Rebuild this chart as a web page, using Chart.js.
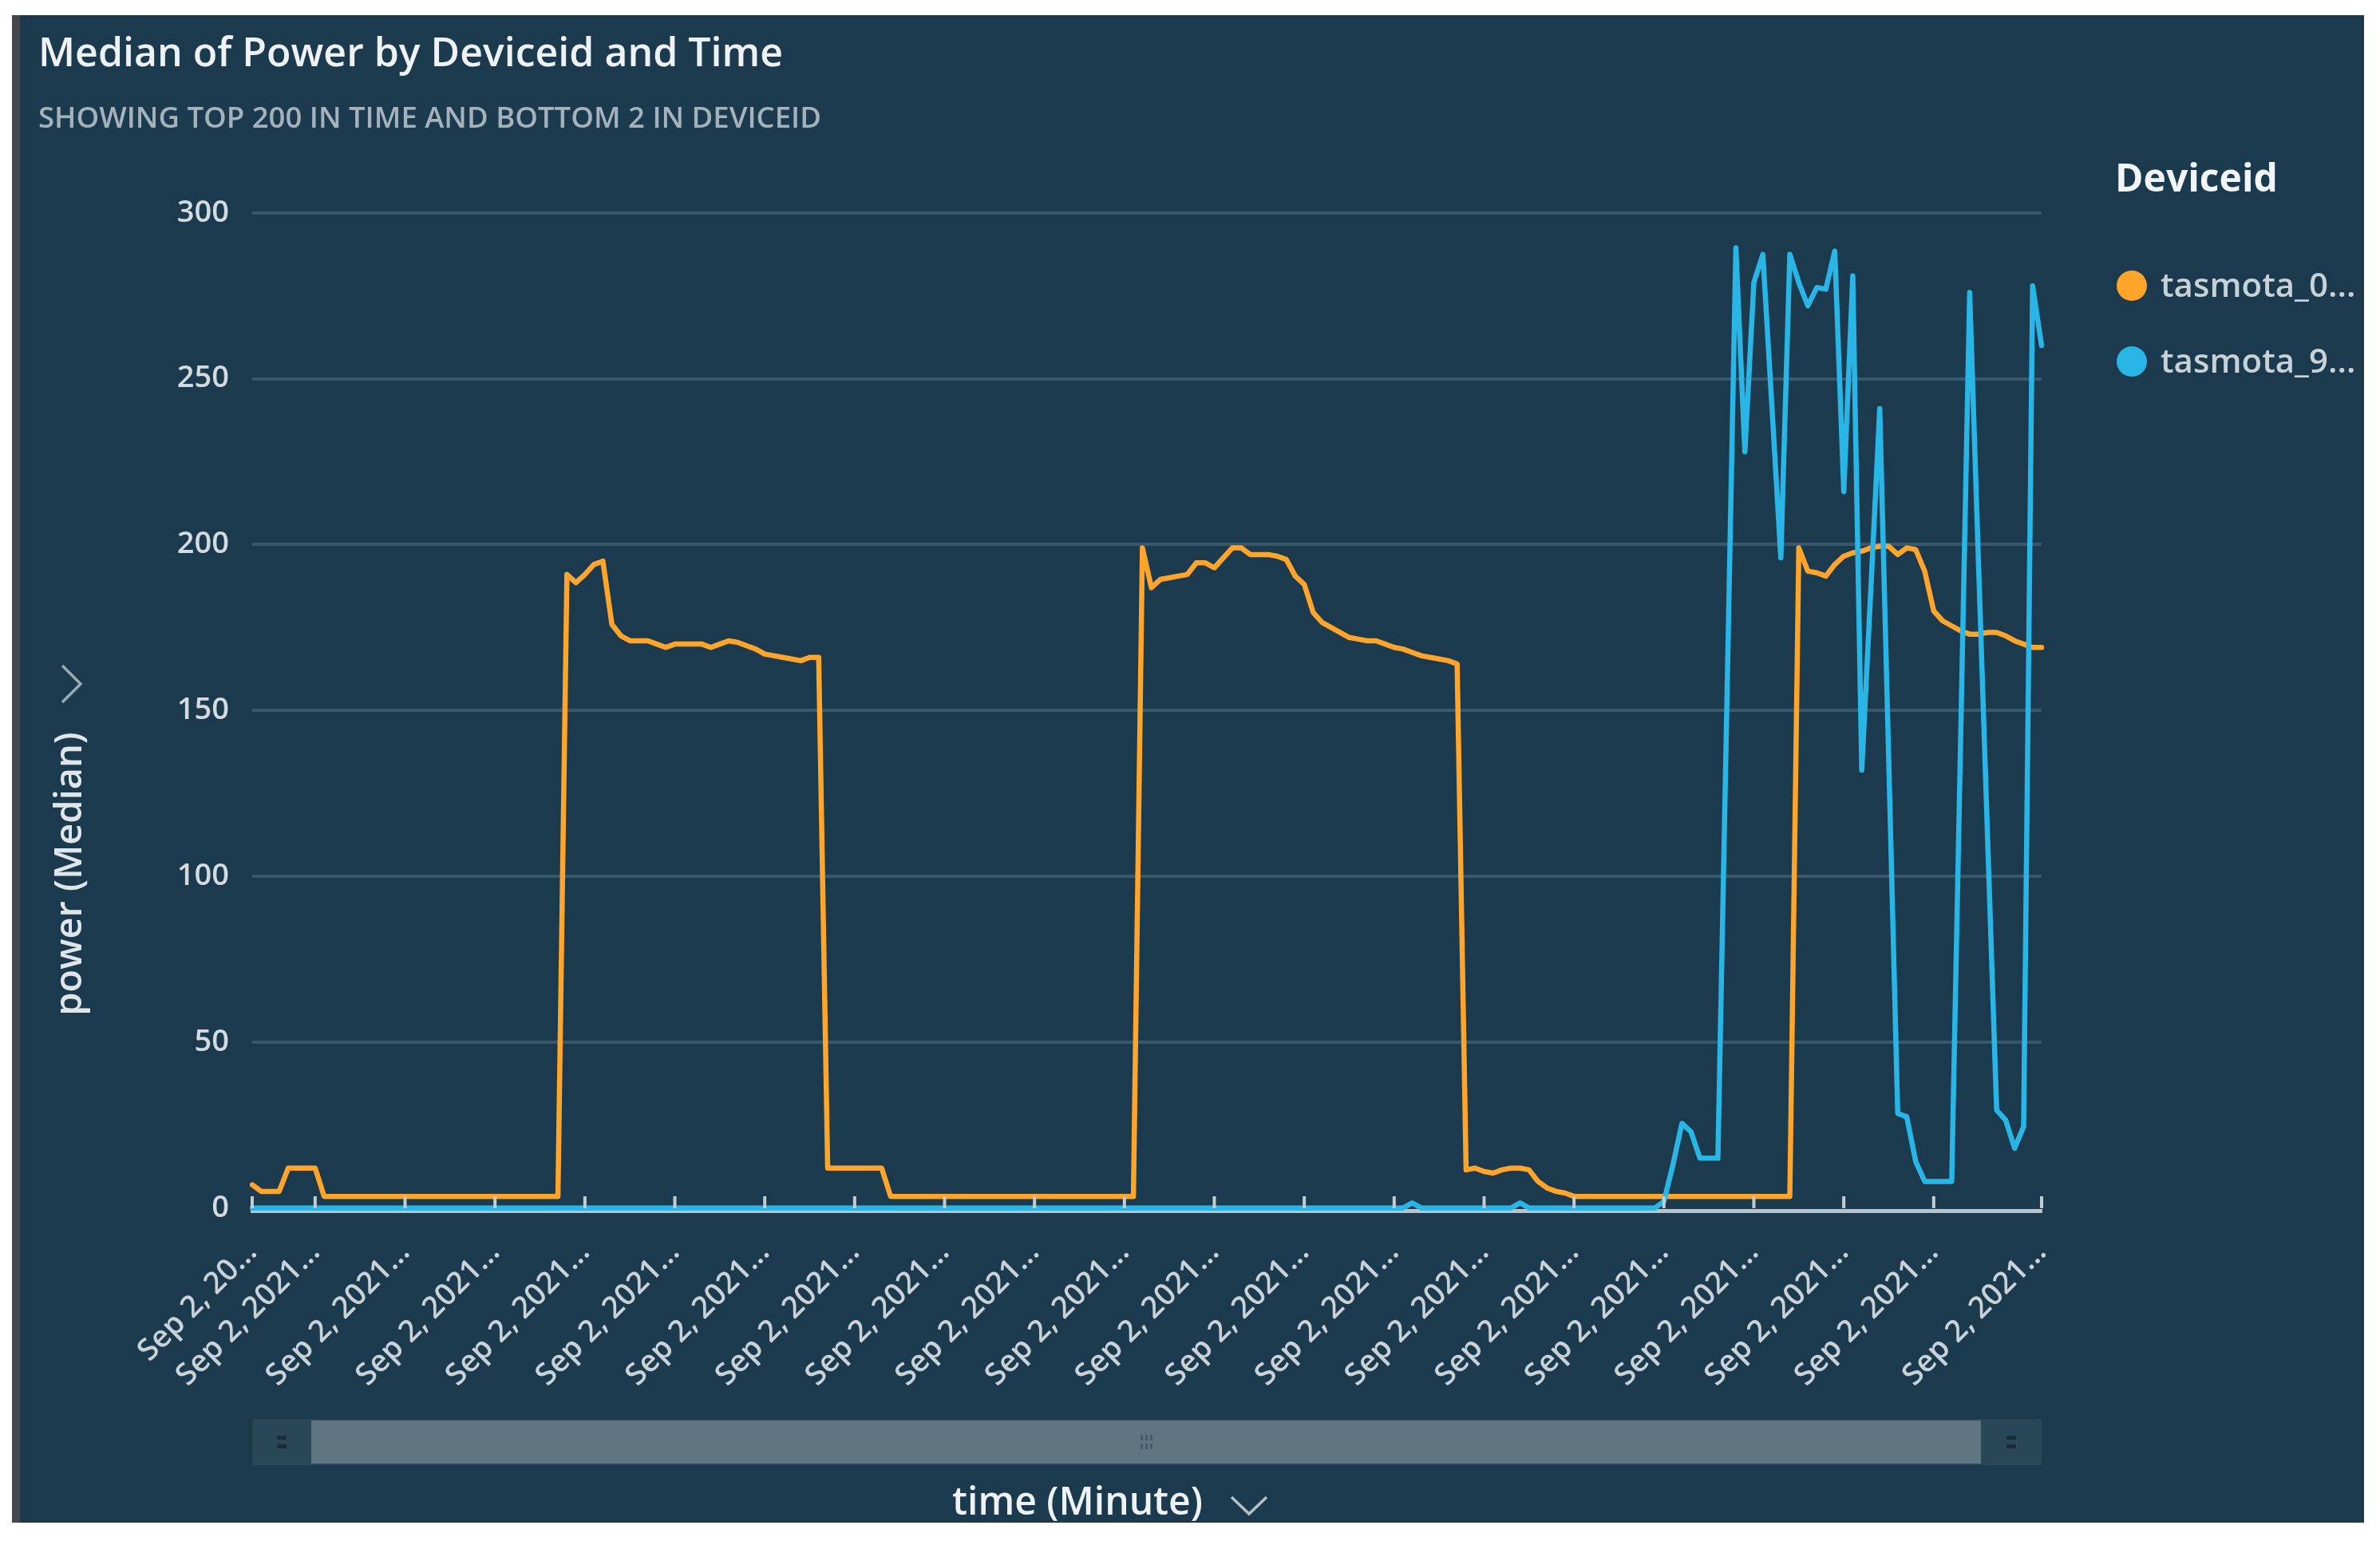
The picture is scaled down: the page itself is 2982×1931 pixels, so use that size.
<!DOCTYPE html>
<html>
<head>
<meta charset="utf-8">
<title>Median of Power by Deviceid and Time</title>
<script src="https://cdn.jsdelivr.net/npm/chart.js@4.4.0/dist/chart.umd.min.js"></script>
<style>
  html, body { margin: 0; padding: 0; background: #ffffff; }
  #wrap { width: 2982px; height: 1931px; }
</style>
</head>
<body>
<div id="wrap"><canvas id="powerChart" width="2982" height="1931"></canvas></div>
<script>
// values, one per minute (200 minutes)
var deviceIds = ['tasmota_0...', 'tasmota_9...'];

var tasmota0 = [
  7, 5, 5, 5, 12, 12, 12, 12, 3.5, 3.5,
  3.5, 3.5, 3.5, 3.5, 3.5, 3.5, 3.5, 3.5, 3.5, 3.5,
  3.5, 3.5, 3.5, 3.5, 3.5, 3.5, 3.5, 3.5, 3.5, 3.5,
  3.5, 3.5, 3.5, 3.5, 3.5, 191, 188.5, 191, 194, 195,
  176, 172.5, 171, 171, 171, 170, 169, 170, 170, 170,
  170, 169, 170, 171, 170.5, 169.5, 168.5, 167, 166.5, 166,
  165.5, 165, 166, 166, 12, 12, 12, 12, 12, 12,
  12, 3.5, 3.5, 3.5, 3.5, 3.5, 3.5, 3.5, 3.5, 3.5,
  3.5, 3.5, 3.5, 3.5, 3.5, 3.5, 3.5, 3.5, 3.5, 3.5,
  3.5, 3.5, 3.5, 3.5, 3.5, 3.5, 3.5, 3.5, 3.5, 199,
  187, 189.5, 190, 190.5, 191, 194.5, 194.5, 193, 196, 199,
  199, 197, 197, 197, 196.5, 195.5, 190.5, 188, 179.5, 176.5,
  175, 173.5, 172, 171.5, 171, 171, 170, 169, 168.5, 167.5,
  166.5, 166, 165.5, 165, 164, 11.5, 12, 11, 10.5, 11.5,
  12, 12, 11.5, 8, 6, 5, 4.5, 3.5, 3.5, 3.5,
  3.5, 3.5, 3.5, 3.5, 3.5, 3.5, 3.5, 3.5, 3.5, 3.5,
  3.5, 3.5, 3.5, 3.5, 3.5, 3.5, 3.5, 3.5, 3.5, 3.5,
  3.5, 3.5, 199, 192, 191.5, 190.5, 194, 196.5, 197.5, 198,
  199, 199.5, 199.5, 197, 199, 198.5, 192, 180, 177, 175.5,
  174, 173, 173, 173.5, 173.5, 172.5, 171, 170, 169, 169
];

var tasmota9 = [
  0, 0, 0, 0, 0, 0, 0, 0, 0, 0,
  0, 0, 0, 0, 0, 0, 0, 0, 0, 0,
  0, 0, 0, 0, 0, 0, 0, 0, 0, 0,
  0, 0, 0, 0, 0, 0, 0, 0, 0, 0,
  0, 0, 0, 0, 0, 0, 0, 0, 0, 0,
  0, 0, 0, 0, 0, 0, 0, 0, 0, 0,
  0, 0, 0, 0, 0, 0, 0, 0, 0, 0,
  0, 0, 0, 0, 0, 0, 0, 0, 0, 0,
  0, 0, 0, 0, 0, 0, 0, 0, 0, 0,
  0, 0, 0, 0, 0, 0, 0, 0, 0, 0,
  0, 0, 0, 0, 0, 0, 0, 0, 0, 0,
  0, 0, 0, 0, 0, 0, 0, 0, 0, 0,
  0, 0, 0, 0, 0, 0, 0, 0, 0, 1.5,
  0, 0, 0, 0, 0, 0, 0, 0, 0, 0,
  0, 1.5, 0, 0, 0, 0, 0, 0, 0, 0,
  0, 0, 0, 0, 0, 0, 0, 2, 13, 25.5,
  23, 15, 15, 15, 152, 289.5, 228, 279, 287.5, 242,
  196, 287.5, 279, 272, 277.5, 277, 288.5, 216, 281, 132,
  186, 241, 135, 28.5, 27.5, 14, 8, 8, 8, 8,
  142, 276, 193, 111, 29.5, 26.5, 18, 24.5, 278, 260
];

var yTicks = [0, 50, 100, 150, 200, 250, 300];

// which minutes carry a tick, and the (truncated) text shown there
var tickIndex = [0, 7, 17, 27, 37, 47, 57, 67, 77, 87, 97, 107, 117, 127, 137, 147, 157, 167, 177, 187, 199];
var tickText = ['Sep 2, 20...', 'Sep 2, 2021...', 'Sep 2, 2021...', 'Sep 2, 2021...', 'Sep 2, 2021...',
  'Sep 2, 2021...', 'Sep 2, 2021...', 'Sep 2, 2021...', 'Sep 2, 2021...', 'Sep 2, 2021...',
  'Sep 2, 2021...', 'Sep 2, 2021...', 'Sep 2, 2021...', 'Sep 2, 2021...', 'Sep 2, 2021...',
  'Sep 2, 2021...', 'Sep 2, 2021...', 'Sep 2, 2021...', 'Sep 2, 2021...', 'Sep 2, 2021...', 'Sep 2, 2021...'];

var timeLabels = [];
for (var m = 0; m < tasmota0.length; m++) {
  var t = 9 * 60 + 53 + m;
  var hh = Math.floor(t / 60), mm = t % 60;
  timeLabels.push('Sep 2, 2021 ' + hh + ':' + (mm < 10 ? '0' : '') + mm);
}

var ORANGE = '#ffa52b';
var BLUE = '#29b6e6';
var FONT = "'Open Sans', 'Noto Sans', sans-serif";

Chart.defaults.font.family = FONT;

var panelBg = {
  id: 'panelBg',
  beforeDraw: function (chart) {
    var ctx = chart.ctx;
    ctx.save();
    ctx.fillStyle = '#ffffff';
    ctx.fillRect(0, 0, chart.width, chart.height);
    ctx.fillStyle = '#1b3a4e';
    ctx.fillRect(15, 19, 2947, 1889);
    ctx.fillStyle = '#46464f';
    ctx.fillRect(15, 19, 10, 1889);
    ctx.restore();
  }
};

// little tick marks sitting on the axis line
var tickMarks = {
  id: 'tickMarks',
  afterDatasetsDraw: function (chart) {
    var ctx = chart.ctx, x = chart.scales.x, b = chart.chartArea.bottom;
    ctx.save();
    ctx.strokeStyle = '#c3ccd1';
    ctx.lineWidth = 4;
    tickIndex.forEach(function (i) {
      var px = x.getPixelForValue(i);
      ctx.beginPath();
      ctx.moveTo(px, b - 3);
      ctx.lineTo(px, b - 18);
      ctx.stroke();
    });
    ctx.restore();
  }
};

var decorations = {
  id: 'decorations',
  afterDraw: function (chart) {
    var ctx = chart.ctx, area = chart.chartArea;
    ctx.save();

    // y axis title with its chevron
    ctx.fillStyle = '#dfe6ea';
    ctx.font = '600 47px ' + FONT;
    ctx.textAlign = 'center';
    ctx.textBaseline = 'middle';
    ctx.save();
    ctx.translate(89, 1095);
    ctx.rotate(-Math.PI / 2);
    ctx.fillText('power (Median)', 0, 0);
    ctx.restore();
    ctx.strokeStyle = '#9aabb6';
    ctx.lineWidth = 3.5;
    ctx.beginPath();
    ctx.moveTo(78, 834); ctx.lineTo(101, 857); ctx.lineTo(78, 880);
    ctx.stroke();

    // scrollbar under the labels
    ctx.fillStyle = '#2a4758';
    ctx.fillRect(area.left, 1778, area.right - area.left, 58);
    ctx.fillStyle = '#5e7582';
    ctx.fillRect(area.left + 74, 1780, area.right - area.left - 150, 54);
    ctx.fillStyle = '#1a2c38';
    [area.left + 37, area.right - 38].forEach(function (cx) {
      ctx.fillRect(cx - 6, 1799, 12, 5);
      ctx.fillRect(cx - 6, 1810, 12, 5);
    });
    var mid = (area.left + area.right) / 2;
    ctx.fillStyle = '#45596a';
    for (var r = 0; r < 2; r++) {
      for (var c = 0; c < 3; c++) {
        ctx.fillRect(mid - 8 + c * 6, 1798 + r * 11, 3, 7);
      }
    }

    // x axis title with its chevron
    ctx.fillStyle = '#eef2f4';
    ctx.font = '600 48px ' + FONT;
    ctx.textAlign = 'center';
    ctx.fillText('time (Minute)', 1350, 1884);
    ctx.strokeStyle = '#b4c0c7';
    ctx.lineWidth = 3.5;
    ctx.beginPath();
    ctx.moveTo(1543, 1876); ctx.lineTo(1565, 1897); ctx.lineTo(1587, 1876);
    ctx.stroke();

    // legend
    ctx.beginPath();
    ctx.rect(15, 19, 2947, 1889);
    ctx.clip();
    ctx.textAlign = 'left';
    ctx.fillStyle = '#f2f5f7';
    ctx.font = '700 48px ' + FONT;
    ctx.fillText('Deviceid', 2650, 226);
    ctx.font = '600 42px ' + FONT;
    chart.data.datasets.forEach(function (ds, i) {
      var cy = 358 + i * 95;
      ctx.fillStyle = ds.borderColor;
      ctx.beginPath();
      ctx.arc(2671, cy, 19, 0, Math.PI * 2);
      ctx.fill();
      ctx.fillStyle = '#c6d1d8';
      ctx.fillText(ds.label, 2707, cy + 2);
    });
    ctx.restore();
  }
};

new Chart(document.getElementById('powerChart'), {
  type: 'line',
  data: {
    labels: timeLabels,
    datasets: [
      { label: deviceIds[0], data: tasmota0, borderColor: ORANGE, backgroundColor: ORANGE, order: 1 },
      { label: deviceIds[1], data: tasmota9, borderColor: BLUE, backgroundColor: BLUE, order: 0 }
    ]
  },
  options: {
    responsive: false,
    animation: false,
    events: [],
    layout: { padding: { left: 48, right: 424, top: 39, bottom: 0 } },
    elements: {
      line: { borderWidth: 6.5, tension: 0, borderJoinStyle: 'round', borderCapStyle: 'round' },
      point: { radius: 0 }
    },
    plugins: {
      legend: { display: false },
      tooltip: { enabled: false },
      title: {
        display: true,
        align: 'start',
        text: 'Median of Power by Deviceid and Time',
        color: '#eef2f4',
        font: { size: 50, weight: '600' },
        padding: { top: 0, bottom: 0 }
      },
      subtitle: {
        display: true,
        align: 'start',
        text: 'SHOWING TOP 200 IN TIME AND BOTTOM 2 IN DEVICEID',
        color: '#a3b2bc',
        font: { size: 36.5, weight: '600' },
        padding: { top: 29, bottom: 95 }
      }
    },
    scales: {
      x: {
        grid: { display: false },
        border: { display: true, color: '#b9c3c9', width: 5 },
        ticks: {
          autoSkip: false,
          minRotation: 45,
          maxRotation: 45,
          padding: 22,
          color: '#c8d2d8',
          font: { size: 38, weight: '600' },
          callback: function (v, i) {
            var k = tickIndex.indexOf(i);
            return k < 0 ? '' : tickText[k];
          }
        },
        afterFit: function (s) { s.height = 414; }
      },
      y: {
        min: -0.8,
        max: 300,
        border: { display: false },
        grid: {
          color: function (c) { return c.tick && c.tick.value === 0 ? 'rgba(0,0,0,0)' : '#3a586c'; },
          lineWidth: 4,
          drawTicks: false
        },
        afterBuildTicks: function (s) {
          s.ticks = yTicks.map(function (v) { return { value: v }; });
        },
        ticks: {
          padding: 29,
          color: '#d3dbe0',
          font: { size: 38, weight: '600' }
        },
        afterFit: function (s) { s.width = 268; }
      }
    }
  },
  plugins: [panelBg, tickMarks, decorations]
});
</script>
</body>
</html>
